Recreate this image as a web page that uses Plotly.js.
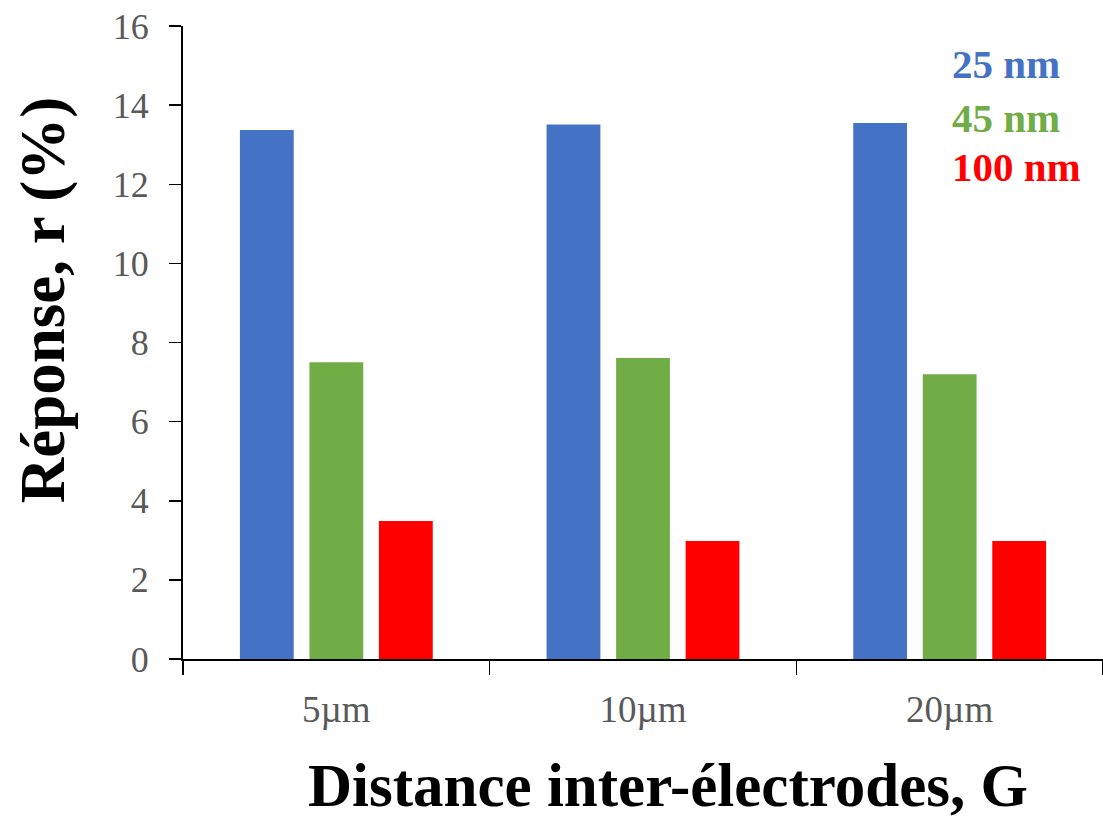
<!DOCTYPE html>
<html>
<head>
<meta charset="utf-8">
<script src="https://cdn.plot.ly/plotly-3.0.1.min.js"></script>
<style>html,body{margin:0;padding:0;background:#fff;}#chart{width:1103px;height:823px;}</style>
</head>
<body>
<div id="chart"></div>
<script>
const categories = ["5µm", "10µm", "20µm"];
const seriesNames = ["25 nm", "45 nm", "100 nm"];
const values25 = [13.37, 13.51, 13.55];
const values45 = [7.50, 7.61, 7.20];
const values100 = [3.49, 2.98, 2.98];
const colors = ["#4472C4", "#70AD47", "#FF0000"];
const yTitle = "Réponse, r (%)";
const xTitle = "Distance inter-électrodes, G";

const allValues = [values25, values45, values100];
const traces = allValues.map((v, i) => ({
  type: "bar",
  x: categories,
  y: v,
  name: seriesNames[i],
  marker: {color: colors[i]},
  hoverinfo: "x+y+name"
}));

const legendY = [0.94, 0.855, 0.777];
const annotations = seriesNames.map((n, i) => ({
  xref: "paper", yref: "paper",
  x: 0.834, xanchor: "left",
  y: legendY[i], yanchor: "middle",
  text: "<b>" + n + "</b>",
  showarrow: false,
  font: {family: "Liberation Serif", size: 41, color: colors[i]}
}));
annotations.push({
  xref: "paper", yref: "paper",
  x: 0.527, xanchor: "center",
  y: -0.256, yanchor: "bottom",
  text: "<b>" + xTitle + "</b>",
  showarrow: false,
  font: {family: "Liberation Serif", size: 61, color: "#000"}
});
annotations.push({
  xref: "paper", yref: "paper",
  x: -0.152, xanchor: "center",
  y: 0.567, yanchor: "middle",
  textangle: -90,
  text: "<b>" + yTitle + "</b>",
  showarrow: false,
  font: {family: "Liberation Serif", size: 63, color: "#000"}
});

const layout = {
  width: 1103, height: 823,
  margin: {l: 183, r: 0, t: 26, b: 164, pad: 0},
  paper_bgcolor: "#fff", plot_bgcolor: "#fff",
  barmode: "group",
  bargap: 0.32,
  bargroupgap: 0.226,
  showlegend: false,
  font: {family: "Liberation Serif", color: "#595959"},
  xaxis: {
    type: "category",
    range: [-0.5, 2.5],
    showline: true, linecolor: "#000", linewidth: 2,
    ticks: "outside", tickson: "boundaries", ticklen: 14, tickwidth: 1.5, tickcolor: "#000",
    showgrid: false, zeroline: false,
    tickfont: {family: "Liberation Serif", size: 37, color: "#595959"},
    ticklabelstandoff: 17
  },
  yaxis: {
    range: [0, 16], dtick: 2,
    showline: true, linecolor: "#000", linewidth: 2,
    ticks: "outside", ticklen: 12, tickwidth: 1.5, tickcolor: "#000",
    showgrid: false, zeroline: false,
    tickfont: {family: "Liberation Serif", size: 36, color: "#595959"},
    ticklabelstandoff: 13
  },
  annotations: annotations
};

Plotly.newPlot("chart", traces, layout, {displayModeBar: false, staticPlot: true});
</script>
</body>
</html>
